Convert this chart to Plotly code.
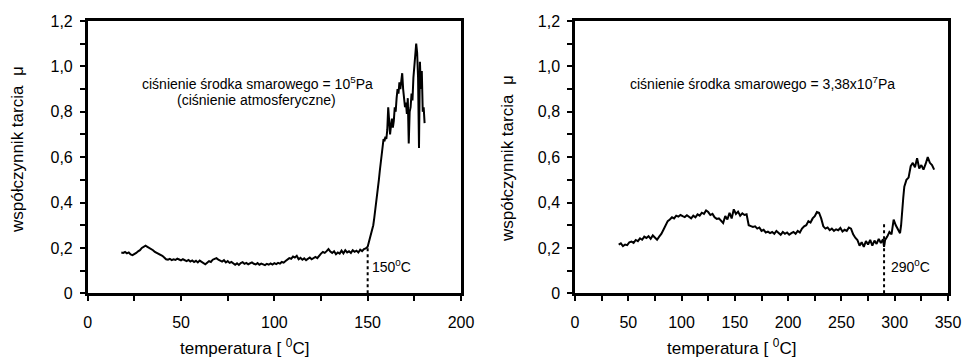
import plotly.graph_objects as go

# --- friction coefficient vs. temperature, lubricant pressure 1e5 Pa ---
temp_a_low = list(range(18, 151))
mu_a_low = [
    0.180, 0.178, 0.182, 0.176, 0.180, 0.171, 0.168, 0.172, 0.178, 0.185,
    0.190, 0.200, 0.205, 0.210, 0.205, 0.200, 0.196, 0.190, 0.182, 0.178,
    0.172, 0.170, 0.165, 0.158, 0.150, 0.148, 0.152, 0.146, 0.150, 0.147,
    0.153, 0.149, 0.145, 0.150, 0.146, 0.142, 0.147, 0.140, 0.145, 0.138,
    0.143, 0.136, 0.144, 0.139, 0.133, 0.128, 0.135, 0.142, 0.138, 0.148,
    0.152, 0.155, 0.148, 0.145, 0.140, 0.146, 0.136, 0.142, 0.134, 0.138,
    0.130, 0.126, 0.132, 0.125, 0.133, 0.137, 0.130, 0.134, 0.128, 0.132,
    0.136, 0.130, 0.127, 0.133, 0.126, 0.131, 0.128, 0.124, 0.130, 0.126,
    0.132, 0.127, 0.133, 0.129, 0.134, 0.131, 0.138, 0.135, 0.142, 0.148,
    0.155, 0.152, 0.162, 0.158, 0.165, 0.150, 0.156, 0.148, 0.154, 0.146,
    0.152, 0.158, 0.150, 0.156, 0.160, 0.155, 0.168, 0.175, 0.182, 0.178,
    0.186, 0.195, 0.184, 0.178, 0.185, 0.172, 0.180, 0.175, 0.188, 0.176,
    0.190, 0.180, 0.185, 0.178, 0.190, 0.183, 0.188, 0.180, 0.192, 0.186,
    0.195, 0.198, 0.205,
]
temp_a_high = [
    150.5, 151, 151.5, 152, 152.5, 153, 153.5, 154, 154.5, 155,
    155.5, 156, 156.5, 157, 157.5, 158, 158.5, 159, 159.5, 160,
    160.5, 161, 161.5, 162, 162.5, 163, 163.5, 164, 164.5, 165,
    165.5, 166, 166.5, 167, 167.5, 168, 168.5, 169, 169.5, 170,
    170.5, 171, 171.5, 172, 172.5, 173, 173.5, 174, 174.5, 175,
    175.5, 176, 176.5, 177, 177.5, 178, 178.5, 179, 179.5, 180, 180.5,
]
mu_a_high = [
    0.220, 0.235, 0.250, 0.270, 0.285, 0.300, 0.330, 0.360, 0.390, 0.420,
    0.460, 0.500, 0.540, 0.580, 0.620, 0.660, 0.680, 0.670, 0.690, 0.680,
    0.720, 0.820, 0.720, 0.700, 0.740, 0.770, 0.730, 0.760, 0.820, 0.800,
    0.860, 0.900, 0.880, 0.930, 0.900, 0.950, 0.970, 0.900, 0.850, 0.820,
    0.840, 0.790, 0.860, 0.660, 0.800, 0.820, 0.880, 0.850, 0.950, 1.020,
    1.050, 1.100, 1.060, 0.950, 0.640, 1.020, 0.900, 0.980, 0.800, 0.820, 0.750,
]
temp_a = temp_a_low + temp_a_high
mu_a = mu_a_low + mu_a_high

# --- friction coefficient vs. temperature, lubricant pressure 3.38e7 Pa ---
temp_b = [
    41, 43, 45, 47, 49, 51, 53, 55, 57, 59, 61, 63, 65, 67, 69, 71, 73, 75, 77, 79,
    81, 83, 85, 87, 89, 91, 93, 95, 97, 99, 101, 103, 105, 107, 109, 111, 113, 115,
    117, 119, 121, 123, 125, 127, 129, 131, 133, 135, 137, 139, 141, 143, 145, 147,
    149, 151, 153, 155, 157, 159, 161, 163, 165, 167, 169, 171, 173, 175, 177, 179,
    181, 183, 185, 187, 189, 191, 193, 195, 197, 199, 201, 203, 205, 207, 209, 211,
    213, 215, 217, 219, 221, 223, 225, 227, 229, 231, 233, 235, 237, 239, 241, 243,
    245, 247, 249, 251, 253, 255, 257, 259, 261, 263, 265, 267, 269, 271, 273, 275,
    277, 279, 281, 283, 285, 287, 289, 290, 291, 293, 295, 297, 299, 301, 303, 305,
    306, 307, 308, 309, 311, 313, 315, 317, 319, 321, 323, 325, 327, 329, 331, 333,
    335, 337,
]
mu_b = [
    0.215, 0.220, 0.208, 0.215, 0.212, 0.225, 0.228, 0.222, 0.235, 0.230,
    0.242, 0.236, 0.250, 0.244, 0.252, 0.240, 0.255, 0.245, 0.236, 0.250,
    0.262, 0.280, 0.300, 0.318, 0.325, 0.335, 0.330, 0.342, 0.338, 0.345,
    0.340, 0.336, 0.344, 0.338, 0.330, 0.342, 0.335, 0.348, 0.342, 0.355,
    0.350, 0.365, 0.358, 0.345, 0.350, 0.335, 0.328, 0.330, 0.320, 0.310,
    0.340, 0.325, 0.355, 0.330, 0.370, 0.350, 0.360, 0.342, 0.352, 0.345,
    0.348, 0.300, 0.296, 0.292, 0.295, 0.285, 0.290, 0.275, 0.280, 0.268,
    0.272, 0.265, 0.270, 0.262, 0.275, 0.266, 0.258, 0.270, 0.262, 0.268,
    0.258, 0.265, 0.270, 0.262, 0.275, 0.268, 0.285, 0.295, 0.300, 0.318,
    0.312, 0.330, 0.340, 0.358, 0.355, 0.330, 0.295, 0.285, 0.290, 0.278,
    0.285, 0.275, 0.282, 0.278, 0.288, 0.272, 0.280, 0.275, 0.290, 0.285,
    0.260, 0.245, 0.235, 0.210, 0.225, 0.205, 0.230, 0.215, 0.235, 0.210,
    0.232, 0.218, 0.240, 0.222, 0.238, 0.205, 0.235, 0.250, 0.270, 0.260,
    0.325, 0.300, 0.280, 0.265, 0.300, 0.380, 0.420, 0.470, 0.500, 0.510,
    0.560, 0.575, 0.555, 0.595, 0.550, 0.565, 0.545, 0.570, 0.600, 0.575,
    0.565, 0.545,
]

# transition temperatures and the friction level reached there
onset_a, onset_a_mu = 150, 0.205
onset_b, onset_b_mu = 290, 0.31

y_ticks = [0, 0.2, 0.4, 0.6, 0.8, 1.0, 1.2]
y_tick_text = ["0", "0,2", "0,4", "0,6", "0,8", "1,0", "1,2"]

FONT = "Liberation Sans, Arial, sans-serif"

fig = go.Figure()
fig.add_trace(go.Scatter(x=temp_a, y=mu_a, mode="lines", xaxis="x", yaxis="y",
                         line=dict(color="black", width=2), showlegend=False))
fig.add_trace(go.Scatter(x=temp_b, y=mu_b, mode="lines", xaxis="x2", yaxis="y2",
                         line=dict(color="black", width=2), showlegend=False))

# dotted markers of the transition temperature
fig.add_trace(go.Scatter(x=[onset_a, onset_a], y=[0, onset_a_mu], mode="lines",
                         xaxis="x", yaxis="y", showlegend=False,
                         line=dict(color="black", width=2, dash="dot")))
fig.add_trace(go.Scatter(x=[onset_b, onset_b], y=[0, onset_b_mu], mode="lines",
                         xaxis="x2", yaxis="y2", showlegend=False,
                         line=dict(color="black", width=2, dash="dot")))

axis_common = dict(
    showline=True, linecolor="black", linewidth=2.5, mirror=True,
    ticks="outside", ticklen=5, tickwidth=1.5, tickcolor="black",
    showgrid=False, zeroline=False, automargin=False,
    tickfont=dict(family=FONT, size=16, color="black"),
)
minor_x = dict(ticks="outside", dtick=25, ticklen=5, tickwidth=1.5, tickcolor="black")
minor_y = dict(ticks="outside", dtick=0.1, ticklen=5, tickwidth=1.5, tickcolor="black")

y_dom = [1 - 293.3 / 358, 1 - 21 / 358]
fig.update_layout(
    template="none",
    width=966, height=358,
    margin=dict(l=0, r=0, t=0, b=0),
    paper_bgcolor="white", plot_bgcolor="white",
    font=dict(family=FONT, color="black"),
    showlegend=False,
    xaxis=dict(domain=[87.7 / 966, 461 / 966], range=[0, 200], dtick=50,
               minor=minor_x, anchor="y", ticklabelstandoff=8, **axis_common),
    yaxis=dict(domain=y_dom, range=[0, 1.2], tickvals=y_ticks, ticktext=y_tick_text,
               minor=minor_y, anchor="x", ticklabelstandoff=4, **axis_common),
    xaxis2=dict(domain=[575 / 966, 948 / 966], range=[0, 350], dtick=50,
                minor=minor_x, anchor="y2", ticklabelstandoff=8, **axis_common),
    yaxis2=dict(domain=y_dom, range=[0, 1.2], tickvals=y_ticks, ticktext=y_tick_text,
                minor=minor_y, anchor="x2", ticklabelstandoff=4, **axis_common),
)

ann = []
# axis titles
for xc in (244, 731):
    ann.append(dict(x=xc / 966, y=1 - 347 / 358, xref="paper", yref="paper",
                    text="temperatura [ <sup>0</sup>C]", showarrow=False,
                    font=dict(family=FONT, size=17), xanchor="center", yanchor="middle"))
for xc, yc in ((18, 150), (508, 158)):
    ann.append(dict(x=xc / 966, y=1 - yc / 358, xref="paper", yref="paper",
                    text="współczynnik tarcia  μ", showarrow=False, textangle=-90,
                    font=dict(family=FONT, size=17), xanchor="center", yanchor="middle"))

# pressure labels (pixel positions converted to data units)
ann.append(dict(x=(257 - 87.7) / 1.865, y=(293.3 - 83) / 226.7, xref="x", yref="y",
                showarrow=False, text="ciśnienie środka smarowego = 10<sup>5</sup>Pa",
                font=dict(family=FONT, size=14), xanchor="center", yanchor="middle"))
ann.append(dict(x=(256 - 87.7) / 1.865, y=(293.3 - 100) / 226.7, xref="x", yref="y",
                showarrow=False, text="(ciśnienie atmosferyczne)",
                font=dict(family=FONT, size=14), xanchor="center", yanchor="middle"))
ann.append(dict(x=(762.5 - 575) / 1.0657, y=(293.3 - 83) / 226.7, xref="x2", yref="y2",
                showarrow=False, text="ciśnienie środka smarowego = 3,38x10<sup>7</sup>Pa",
                font=dict(family=FONT, size=14), xanchor="center", yanchor="middle"))

# transition temperature labels
ann.append(dict(x=onset_a + 1.5, y=0.12, xref="x", yref="y", showarrow=False,
                text=f"{onset_a}<sup>0</sup>C", font=dict(family=FONT, size=14),
                xanchor="left", yanchor="middle"))
ann.append(dict(x=onset_b + 5, y=0.12, xref="x2", yref="y2", showarrow=False,
                text=f"{onset_b}<sup>0</sup>C", font=dict(family=FONT, size=14),
                xanchor="left", yanchor="middle"))

fig.update_layout(annotations=ann)
fig.write_html("out.html")
